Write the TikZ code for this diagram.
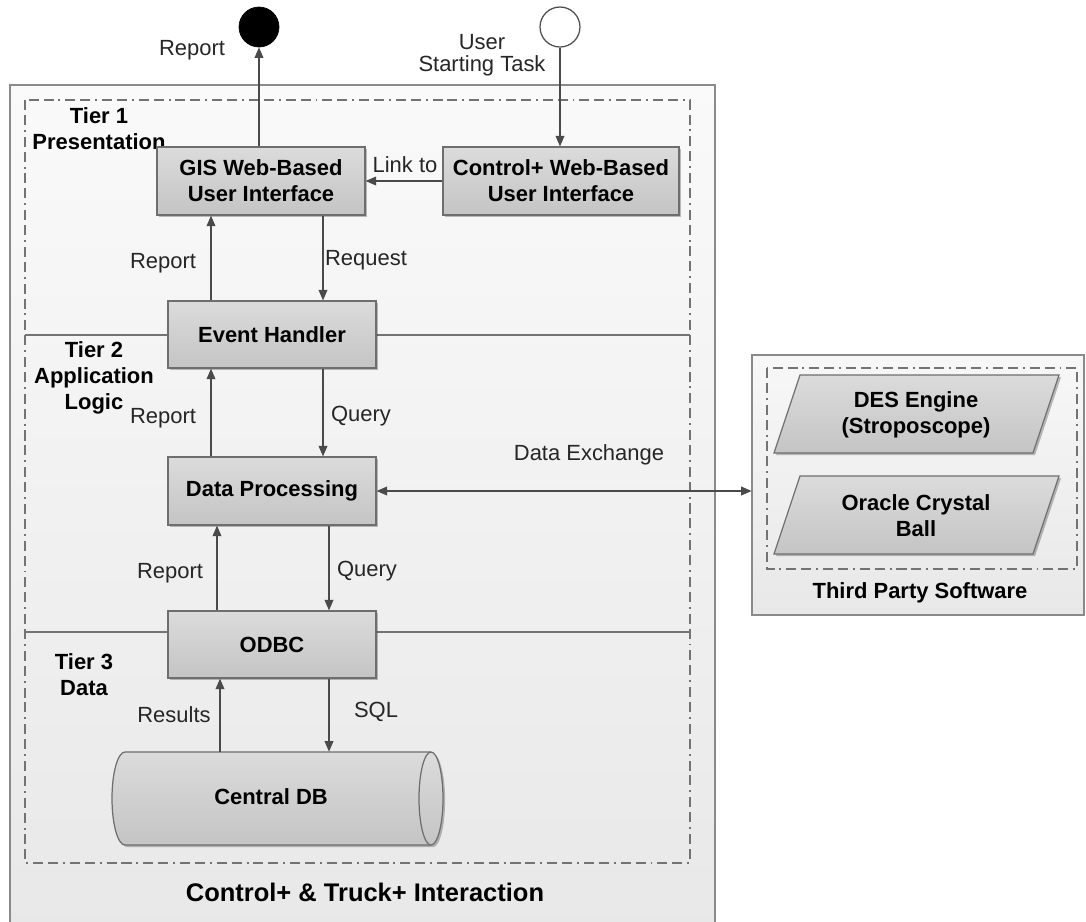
\documentclass[tikz,border=0pt]{standalone}
\usepackage{fontspec}
\setmainfont{Liberation Sans}
\usetikzlibrary{arrows.meta,shadows,calc}
\definecolor{boxline}{HTML}{6E6E6E}
\definecolor{arrline}{HTML}{4A4A4A}
\definecolor{frameline}{HTML}{8A8A8A}
\tikzset{
  comp/.style={draw=boxline, line width=0.7pt, top color=black!14, bottom color=black!23,
    minimum width=208*0.02cm, minimum height=67*0.02cm, inner sep=0pt, align=center,
    font=\fontsize{12.5}{14.8}\selectfont\bfseries,
    drop shadow={shadow xshift=1.2pt, shadow yshift=-1.2pt, opacity=0.25, fill=black}},
  lbl/.style={font=\fontsize{12.5}{14.8}\selectfont, inner sep=0pt, align=center, text=black!85},
  tier/.style={font=\fontsize{12.5}{14.8}\selectfont\bfseries, inner sep=0pt, align=center},
  arr/.style={draw=arrline, line width=0.7pt, -{Triangle[length=6pt,width=5pt]}},
  biarr/.style={draw=arrline, line width=0.7pt, {Triangle[length=6pt,width=5pt]}-{Triangle[length=6pt,width=5pt]}},
  dashframe/.style={draw=black!55, line width=0.7pt, dash pattern=on 5.7pt off 2.8pt on 5.7pt off 2.8pt on 1.1pt off 2.8pt},
  tierline/.style={draw=black!55, line width=0.7pt},
  para/.style={draw=boxline, line width=0.7pt, top color=black!14, bottom color=black!23,
    drop shadow={shadow xshift=1.2pt, shadow yshift=-1.2pt, opacity=0.25, fill=black}},
}
\begin{document}
\begin{tikzpicture}[x=0.02cm,y=-0.02cm]
\useasboundingbox (0,0) rectangle (1086,921);
% outer frame (bottom edge is off the page)
\path[top color=black!2, bottom color=black!9] (10,85) rectangle (715,935);
\draw[draw=frameline, line width=0.9pt] (10,935) -- (10,85) -- (715,85) -- (715,935);
% third party frame
\path[top color=black!3, bottom color=black!9] (752,355) rectangle (1084,615);
\draw[draw=frameline, line width=0.9pt] (752,355) rectangle (1084,615);
\node (tp) [minimum width=332*0.02cm, minimum height=260*0.02cm, inner sep=0pt] at (918,485) {};
% dashed frames
\draw[dashframe] (25,100) rectangle (690,863);
\draw[dashframe] (767,368) rectangle (1077,569);
% tier separators
\draw[tierline] (25,335) -- (690,335);
\draw[tierline] (25,632) -- (690,632);
% tier labels
\node[tier] (t1) at (99,128.5) {Tier 1\\Presentation};
\node[tier] (t2) at (94,378) {Tier 2\\Application\\Logic};
\node[tier] (t3) at (84,674.5) {Tier 3\\Data};
% components
\node[comp, minimum height=68*0.02cm] (gis) at (261,181) {GIS Web-Based\\User Interface};
\node[comp, minimum width=236*0.02cm, minimum height=68*0.02cm] (ctrl) at (561,181) {Control+ Web-Based\\User Interface};
\node[comp] (eh) at (272,334.5) {Event Handler};
\node[comp, minimum height=68*0.02cm] (dp) at (272,491) {Data Processing};
\node[comp] (odbc) at (272,644.5) {ODBC};
% central DB cylinder
\node (db) [minimum width=331*0.02cm, minimum height=93*0.02cm, inner sep=0pt] at (277.5,798.5) {};
\path[para] (125,752) -- (431,752) .. controls (437.6,752) and (443,772.8) .. (443,798.5)
  .. controls (443,824.2) and (437.6,845) .. (431,845) -- (125,845)
  .. controls (117.8,845) and (112,824.2) .. (112,798.5)
  .. controls (112,772.8) and (117.8,752) .. (125,752) -- cycle;
\draw[draw=boxline, line width=0.7pt] (431,752) .. controls (424.4,752) and (419,772.8) .. (419,798.5)
  .. controls (419,824.2) and (424.4,845) .. (431,845);
\node[font=\fontsize{12.5}{14.8}\selectfont\bfseries, inner sep=0pt] at (271,797) {Central DB};
% start/end circles
\node[circle, draw=black, fill=black, minimum size=40*0.02cm, inner sep=0pt] (blk) at (259,27) {};
\node[circle, draw=black!70, fill=white, line width=0.7pt, minimum size=40*0.02cm, inner sep=0pt] (wht) at (560,27) {};
% third party components
\draw[para] (800,375) -- (1059,375) -- (1033,453) -- (774,453) -- cycle;
\node[font=\fontsize{12.5}{14.8}\selectfont\bfseries, inner sep=0pt, align=center] (des) at (916,415) {DES Engine\\(Stroposcope)};
\draw[para] (800,476) -- (1059,476) -- (1033,554) -- (774,554) -- cycle;
\node[font=\fontsize{12.5}{14.8}\selectfont\bfseries, inner sep=0pt, align=center] (ocb) at (916,515.5) {Oracle Crystal\\Ball};
\node[font=\fontsize{12.5}{14.8}\selectfont\bfseries, inner sep=0pt] (tpl) at (920,593) {Third Party Software};
% title
\node[font=\fontsize{14.5}{17}\selectfont\bfseries, inner sep=0pt] (title) at (365,892) {Control+ \& Truck+ Interaction};
% column coordinates
\coordinate (c1) at (211,0);
\coordinate (c2) at (323,0);
\coordinate (c3) at (217,0);
\coordinate (c4) at (329,0);
\coordinate (c5) at (220,0);
% connectors
\draw[arr] (gis.north -| blk) -- (blk.south);
\draw[arr] (wht.south) -- (ctrl.north -| wht);
\draw[arr] (ctrl.west) -- (gis.east);
\draw[arr] (eh.north -| c1) -- (gis.south -| c1);
\draw[arr] (gis.south -| c2) -- (eh.north -| c2);
\draw[arr] (dp.north -| c1) -- (eh.south -| c1);
\draw[arr] (eh.south -| c2) -- (dp.north -| c2);
\draw[arr] (odbc.north -| c3) -- (dp.south -| c3);
\draw[arr] (dp.south -| c4) -- (odbc.north -| c4);
\draw[arr] (db.north -| c5) -- (odbc.south -| c5);
\draw[arr] (odbc.south -| c4) -- (db.north -| c4);
\draw[biarr] (dp.east) -- (dp.east -| tp.west);
% connector labels
\node[lbl] at (192,50) {Report};
\node[lbl, font=\fontsize{12.5}{12.6}\selectfont] at (482,55) {User\\Starting Task};
\node[lbl] at (405,165) {Link to};
\node[lbl] at (163,263) {Report};
\node[lbl] at (366,260) {Request};
\node[lbl] at (163,418) {Report};
\node[lbl] at (361,416) {Query};
\node[lbl] at (589,455) {Data Exchange};
\node[lbl] at (170,573) {Report};
\node[lbl] at (367,571) {Query};
\node[lbl] at (174,715) {Results};
\node[lbl] at (376,712) {SQL};
\end{tikzpicture}
\end{document}
